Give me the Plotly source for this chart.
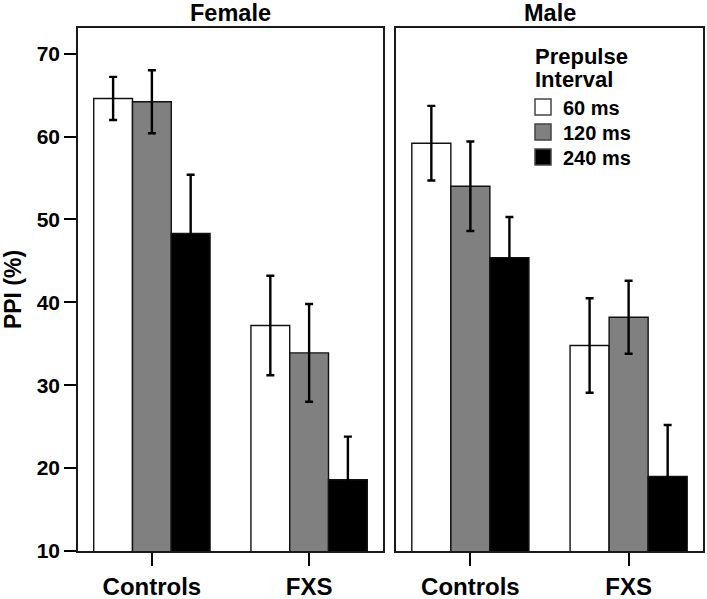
import plotly.graph_objects as go

groups = ["Controls", "FXS"]
intervals = ["60 ms", "120 ms", "240 ms"]
colors = ["#ffffff", "#808080", "#000000"]

female_means = {"60 ms": [64.6, 37.2], "120 ms": [64.2, 33.9], "240 ms": [48.3, 18.6]}
female_err = {"60 ms": [2.6, 6.0], "120 ms": [3.8, 5.9], "240 ms": [7.1, 5.2]}
male_means = {"60 ms": [59.2, 34.8], "120 ms": [54.0, 38.2], "240 ms": [45.4, 19.0]}
male_err = {"60 ms": [4.5, 5.7], "120 ms": [5.4, 4.4], "240 ms": [4.9, 6.2]}

yticks = [10, 20, 30, 40, 50, 60, 70]

FONT = "Liberation Sans, Arial, sans-serif"
L, R, T, B = 78, 4, 28, 48
W, H = 707, 599
PW = W - L - R
PH = H - T - B


def px_x(x):
    return (x - L) / PW


def px_y(y):
    return 1 - (y - T) / PH


fig = go.Figure()
for i, iv in enumerate(intervals):
    for panel, (means, errs) in enumerate([(female_means, female_err), (male_means, male_err)]):
        fig.add_trace(go.Bar(
            x=groups, y=means[iv], name=iv,
            marker=dict(color=colors[i], line=dict(color="#111111", width=1.4)),
            error_y=dict(type="data", array=errs[iv], color="#000000", thickness=2.4, width=4),
            showlegend=False,
            xaxis="x" if panel == 0 else "x2",
            yaxis="y" if panel == 0 else "y2",
        ))
# legend entries (square swatches), one small legend per entry for tight spacing
legend_names = ["legend", "legend2", "legend3"]
legend_rows = [107, 132, 157]
for i, iv in enumerate(intervals):
    fig.add_trace(go.Scatter(
        x=[None], y=[None], mode="markers", name=iv,
        marker=dict(symbol="square", size=16, color=colors[i],
                    line=dict(color="#444444", width=1.5)),
        xaxis="x2", yaxis="y2", showlegend=True, legend=legend_names[i],
    ))

axis_common = dict(showline=True, linecolor="#1a1a1a", linewidth=1.6, mirror=True,
                   showgrid=False, zeroline=False, automargin=False)
xcommon = dict(range=[-0.47, 1.47], ticks="outside", ticklen=13, tickwidth=2,
               tickcolor="#000000", tickfont=dict(size=24, weight="bold"))

legend_layout = {}
for name, row in zip(legend_names, legend_rows):
    legend_layout[name] = dict(x=px_x(523), y=px_y(row), xanchor="left", yanchor="middle",
                               xref="paper", yref="paper", bgcolor="rgba(0,0,0,0)",
                               font=dict(size=20, weight="bold"), itemwidth=30,
                               itemsizing="trace")

fig.update_layout(
    width=W, height=H,
    margin=dict(l=L, r=R, t=T, b=B, autoexpand=False),
    paper_bgcolor="white", plot_bgcolor="white",
    barmode="group", bargap=0.26, bargroupgap=0,
    font=dict(family=FONT, color="#000000"),
    xaxis=dict(domain=[0, 305 / PW], anchor="y", **xcommon, **axis_common),
    xaxis2=dict(domain=[(396 - L) / PW, 1], anchor="y2", **xcommon, **axis_common),
    yaxis=dict(domain=[0, 1], range=[10, 73.1], tickvals=yticks, ticks="outside",
               ticklen=12, tickwidth=2, tickcolor="#000000", anchor="x",
               tickfont=dict(size=21, weight="bold"),
               title=dict(text="PPI (%)", font=dict(size=23, weight="bold"), standoff=10),
               **axis_common),
    yaxis2=dict(domain=[0, 1], range=[10, 73.1], showticklabels=False, ticks="",
                anchor="x2", **axis_common),
    annotations=[
        dict(text="Female", x=px_x(230.5), y=px_y(13), xref="paper", yref="paper",
             showarrow=False, font=dict(size=23.5, weight="bold"),
             xanchor="center", yanchor="middle"),
        dict(text="Male", x=px_x(549.5), y=px_y(13), xref="paper", yref="paper",
             showarrow=False, font=dict(size=23.5, weight="bold"),
             xanchor="center", yanchor="middle"),
        dict(text="Prepulse", x=px_x(533), y=px_y(57), xref="paper", yref="paper",
             showarrow=False, font=dict(size=22, weight="bold"), xanchor="left",
             yanchor="middle"),
        dict(text="Interval", x=px_x(533), y=px_y(79), xref="paper", yref="paper",
             showarrow=False, font=dict(size=22, weight="bold"), xanchor="left",
             yanchor="middle"),
    ],
    **legend_layout,
)

fig.write_html("out.html", config={"responsive": False, "displayModeBar": False},
               post_script="document.body.style.margin='0px';document.body.style.overflow='hidden';")
